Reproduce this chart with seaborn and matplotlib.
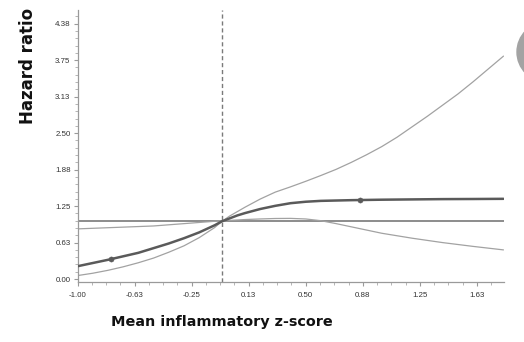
import numpy as np
import pandas as pd
import matplotlib
matplotlib.use("Agg")
import matplotlib.pyplot as plt
from matplotlib.patches import Ellipse
from matplotlib.ticker import FixedLocator
import seaborn as sns

# ---- data ----
x_hr = [-1.0, -0.9, -0.8, -0.7, -0.6, -0.5, -0.4, -0.3, -0.2, -0.1, -0.05, 0.0,
        0.05, 0.1, 0.2, 0.3, 0.4, 0.5, 0.6, 0.8, 1.0, 1.2, 1.4, 1.6, 1.8]
hr = [0.22, 0.275, 0.33, 0.39, 0.45, 0.53, 0.61, 0.70, 0.80, 0.92, 0.99, 1.04,
      1.09, 1.13, 1.20, 1.255, 1.30, 1.325, 1.34, 1.352, 1.36, 1.365, 1.37, 1.372, 1.375]

x_ci_a = [-1.0, -0.9, -0.8, -0.7, -0.6, -0.5, -0.4, -0.3, -0.2, -0.1, -0.05, 0.0,
          0.1, 0.2, 0.3, 0.4, 0.5, 0.6, 0.7, 0.8, 0.9, 1.0, 1.1, 1.2, 1.3, 1.4,
          1.5, 1.6, 1.7, 1.8]
ci_a = [0.06, 0.10, 0.15, 0.21, 0.28, 0.36, 0.46, 0.57, 0.71, 0.88, 0.99, 1.08,
        1.23, 1.37, 1.49, 1.58, 1.675, 1.775, 1.88, 2.00, 2.13, 2.27, 2.43, 2.61,
        2.79, 2.98, 3.17, 3.38, 3.60, 3.82]

x_ci_b = [-1.0, -0.8, -0.6, -0.5, -0.4, -0.3, -0.2, -0.1, -0.05, 0.0, 0.1, 0.2,
          0.3, 0.4, 0.5, 0.6, 0.7, 0.8, 0.9, 1.0, 1.2, 1.4, 1.6, 1.8]
ci_b = [0.86, 0.88, 0.90, 0.91, 0.93, 0.95, 0.97, 0.99, 0.995, 1.005, 1.02, 1.03,
        1.038, 1.04, 1.03, 1.0, 0.95, 0.895, 0.84, 0.785, 0.70, 0.625, 0.56, 0.50]

knot_x = [-0.78, 0.855]
knot_hr = [0.34, 1.355]

ref_x = -0.05
ref_hr = 1.0

xticks = [-1.0, -0.625, -0.25, 0.125, 0.5, 0.875, 1.25, 1.625]
xticklabels = ["-1.00", "-0.63", "-0.25", "0.13", "0.50", "0.88", "1.25", "1.63"]
yticks = [0.0, 0.625, 1.25, 1.875, 2.5, 3.125, 3.75, 4.375]
yticklabels = ["0.00", "0.63", "1.25", "1.88", "2.50", "3.13", "3.75", "4.38"]

# ---- plot ----
sns.set_style("white")
fig = plt.figure(figsize=(5.24, 3.42), dpi=100)
ax = fig.add_axes([77.5 / 524, 1 - 282 / 342, (503.5 - 77.5) / 524, 272 / 342])

df_hr = pd.DataFrame({"x": x_hr, "y": hr})
df_a = pd.DataFrame({"x": x_ci_a, "y": ci_a})
df_b = pd.DataFrame({"x": x_ci_b, "y": ci_b})
df_k = pd.DataFrame({"x": knot_x, "y": knot_hr})

ax.axhline(ref_hr, color="#6e6e6e", lw=1.1, zorder=1)
ax.axvline(ref_x, color="#7a7a7a", lw=1.0, ls=(0, (3, 2)), zorder=1)

sns.lineplot(data=df_a, x="x", y="y", ax=ax, color="#a2a2a2", lw=0.9, zorder=2)
sns.lineplot(data=df_b, x="x", y="y", ax=ax, color="#a2a2a2", lw=0.9, zorder=2)
sns.lineplot(data=df_hr, x="x", y="y", ax=ax, color="#5a5a5a", lw=1.8, zorder=3)
sns.scatterplot(data=df_k, x="x", y="y", ax=ax, color="#5a5a5a", s=14,
                edgecolor="#5a5a5a", zorder=4)

ax.set_xlim(-1.0, 1.80)
ax.set_ylim(-0.05, 4.61)

ax.set_xticks(xticks)
ax.set_xticklabels(xticklabels)
ax.set_yticks(yticks)
ax.set_yticklabels(yticklabels)
ax.xaxis.set_minor_locator(FixedLocator(np.arange(-1.0, 1.80, 0.09375)))
ax.yaxis.set_minor_locator(FixedLocator(np.arange(0.0, 4.61, 0.125)))

for s in ["top", "right"]:
    ax.spines[s].set_visible(False)
for s in ["left", "bottom"]:
    ax.spines[s].set_color("#9a9a9a")
    ax.spines[s].set_linewidth(0.9)

ax.tick_params(axis="both", which="major", direction="out", length=3, width=0.8,
               color="#9a9a9a", labelsize=5.7, labelcolor="#333333", pad=2,
               left=True, bottom=True)
ax.tick_params(axis="both", which="minor", direction="out", length=2, width=0.6,
               color="#aaaaaa", left=True, bottom=True)
for lab in ax.get_xticklabels() + ax.get_yticklabels():
    lab.set_fontfamily("Liberation Sans")
ax.tick_params(axis="x", pad=4)

ax.set_xlabel("")
ax.set_ylabel("")
fig.text(0.0525, 0.807, "Hazard ratio", rotation=90, ha="center", va="center",
         fontsize=12, fontweight="bold", family="DejaVu Sans", color="#111111")
fig.text(0.424, 0.058, "Mean inflammatory z-score", ha="center", va="center",
         fontsize=10.4, fontweight="bold", family="DejaVu Sans", color="#111111")

fig.add_artist(Ellipse((547 / 524, 1 - 52 / 342), width=60 / 524, height=60 / 342,
                       transform=fig.transFigure, color="#a3a3a3", clip_on=False))

fig.savefig("out.png", dpi=100)
